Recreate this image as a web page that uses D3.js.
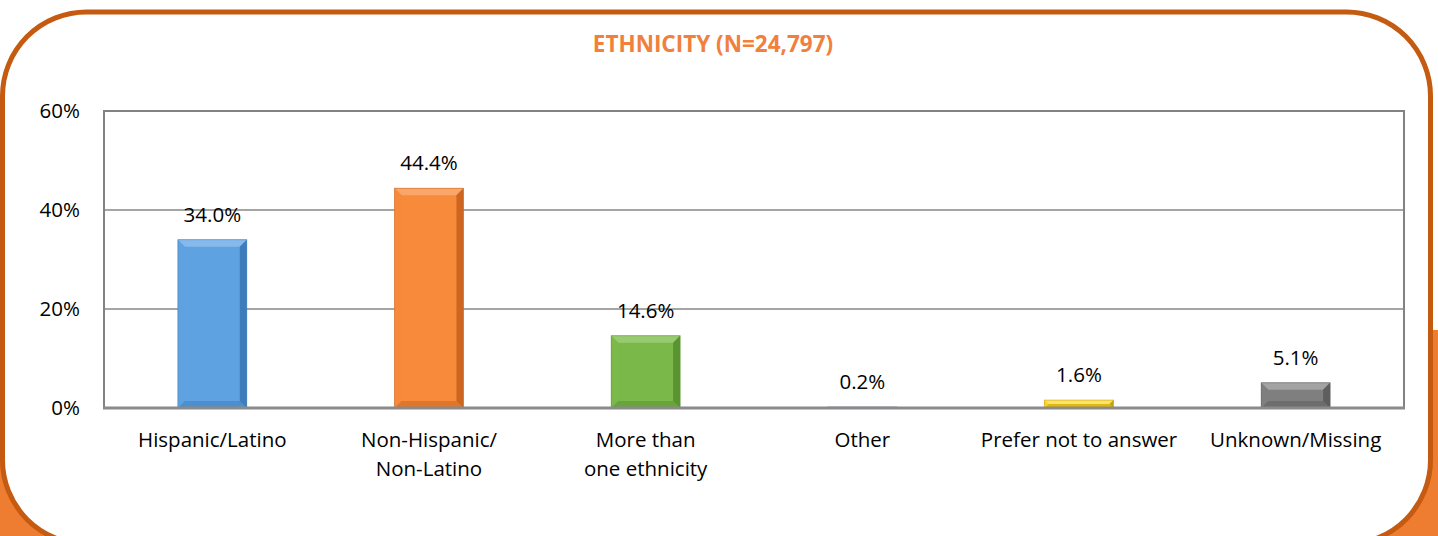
<!DOCTYPE html>
<html>
<head>
<meta charset="utf-8">
<script src="https://cdn.jsdelivr.net/npm/d3@7/dist/d3.min.js"></script>
<style>
  html, body { margin: 0; padding: 0; background: #ffffff; }
  svg { display: block; }
  text { font-family: "Open Sans", "Noto Sans", sans-serif; }
</style>
</head>
<body>
<svg id="chart" width="1438" height="536"></svg>
<script>
// ---- Data ----
const categoryLines = [
  ["Hispanic/Latino"],
  ["Non-Hispanic/", "Non-Latino"],
  ["More than", "one ethnicity"],
  ["Other"],
  ["Prefer not to answer"],
  ["Unknown/Missing"]
];
const values = [34.0, 44.4, 14.6, 0.2, 1.6, 5.1];
const yTicks = [0, 20, 40, 60];
const titleText = "ETHNICITY (N=24,797)";

// ---- Palette (main, light, dark) ----
const barMain  = ["#5FA2E2", "#F78A3B", "#7AB84A", "#8064A2", "#FFD21F", "#7F7F7F"];
const barLight = ["#86BAEC", "#F9A66A", "#98CB70", "#9C86BA", "#FFE26A", "#A3A3A3"];
const barDark  = ["#3E7DBB", "#CC6620", "#5A9430", "#5F4A80", "#C9A200", "#5E5E5E"];

const svg = d3.select("#chart");
const W = 1438, H = 536;
const FS = 20.5;

// ---- Frame ----
svg.append("rect").attr("x", 0).attr("y", 330).attr("width", W).attr("height", H - 330)
  .attr("fill", "#EE7D32");
svg.append("rect")
  .attr("x", 2.5).attr("y", 12).attr("width", 1428).attr("height", 532)
  .attr("rx", 84).attr("ry", 84)
  .attr("fill", "#ffffff").attr("stroke", "#C55A11").attr("stroke-width", 5);

// ---- Title ----
svg.append("text")
  .attr("x", 713).attr("y", 52)
  .attr("text-anchor", "middle")
  .attr("font-weight", "bold")
  .attr("font-size", 22.5)
  .attr("fill", "#F0803C")
  .text(titleText);

// ---- Scales ----
const plot = { left: 104, right: 1404, top: 111, bottom: 408 };
const x = d3.scaleBand().domain(d3.range(values.length))
  .range([plot.left, plot.right]).paddingInner(0).paddingOuter(0);
const y = d3.scaleLinear().domain([0, 60]).range([plot.bottom, plot.top]);
const barW = x.bandwidth() * 0.318;

// ---- Gridlines ----
const g = svg.append("g");
g.selectAll("line.grid").data(yTicks.filter(t => t > 0 && t < 60)).enter()
  .append("line").attr("class", "grid")
  .attr("x1", plot.left).attr("x2", plot.right)
  .attr("y1", d => y(d)).attr("y2", d => y(d))
  .attr("stroke", "#878787").attr("stroke-width", 1.5);

// plot border
g.append("rect")
  .attr("x", plot.left).attr("y", plot.top)
  .attr("width", plot.right - plot.left).attr("height", plot.bottom - plot.top)
  .attr("fill", "none").attr("stroke", "#828282").attr("stroke-width", 2);

// ---- Y axis labels ----
const yAxis = d3.axisLeft(y).tickValues(yTicks).tickFormat(d => d + "%").tickSize(0).tickPadding(24);
const ya = svg.append("g").attr("transform", `translate(${plot.left},0)`).call(yAxis);
ya.select(".domain").remove();
ya.selectAll("text").attr("font-size", FS).attr("fill", "#000")
  .style("font-family", '"Open Sans", sans-serif');

// ---- Bars with bevel ----
const bars = svg.append("g").selectAll("g.bar").data(values).enter().append("g").attr("class", "bar");
bars.each(function(v, i) {
  const sel = d3.select(this);
  const x0 = x(i) + (x.bandwidth() - barW) / 2;
  const x1 = x0 + barW;
  const yt = y(v), yb = y(0);
  const h = yb - yt;
  sel.append("rect").attr("x", x0).attr("y", yt).attr("width", barW).attr("height", h)
    .attr("fill", barMain[i]);
  const b = Math.min(7, h / 2);
  if (b >= 1) {
    sel.append("polygon").attr("points", [[x0, yt], [x1, yt], [x1 - b, yt + b], [x0 + b, yt + b]].join(" "))
      .attr("fill", barLight[i]);
    sel.append("polygon").attr("points", [[x0, yt], [x0 + b, yt + b], [x0 + b, yb - b], [x0, yb]].join(" "))
      .attr("fill", barMain[i]).attr("opacity", 0.85);
    sel.append("polygon").attr("points", [[x1, yt], [x1, yb], [x1 - b, yb - b], [x1 - b, yt + b]].join(" "))
      .attr("fill", barDark[i]);
    sel.append("polygon").attr("points", [[x0, yb], [x1, yb], [x1 - b, yb - b], [x0 + b, yb - b]].join(" "))
      .attr("fill", barDark[i]).attr("opacity", 0.55);
  }
  sel.append("rect").attr("x", x0).attr("y", yt).attr("width", barW).attr("height", h)
    .attr("fill", "none").attr("stroke", barDark[i]).attr("stroke-width", 0.8).attr("opacity", 0.7);
});

// baseline
svg.append("line")
  .attr("x1", plot.left - 1).attr("x2", plot.right + 1)
  .attr("y1", y(0)).attr("y2", y(0))
  .attr("stroke", "#8A8A8A").attr("stroke-width", 3);

// ---- Value labels ----
svg.append("g").selectAll("text").data(values).enter().append("text")
  .attr("x", (d, i) => x(i) + x.bandwidth() / 2)
  .attr("y", d => y(d) - 18)
  .attr("text-anchor", "middle")
  .attr("font-size", FS)
  .attr("fill", "#000")
  .text(d => d.toFixed(1) + "%");

// ---- Category labels ----
const cat = svg.append("g").selectAll("text").data(categoryLines).enter().append("text")
  .attr("x", (d, i) => x(i) + x.bandwidth() / 2)
  .attr("y", 447)
  .attr("text-anchor", "middle")
  .attr("font-size", FS)
  .attr("fill", "#000");
cat.selectAll("tspan").data(d => d).enter().append("tspan")
  .attr("x", function() { return d3.select(this.parentNode).attr("x"); })
  .attr("dy", (d, j) => j === 0 ? 0 : 29)
  .text(d => d);
</script>
</body>
</html>
